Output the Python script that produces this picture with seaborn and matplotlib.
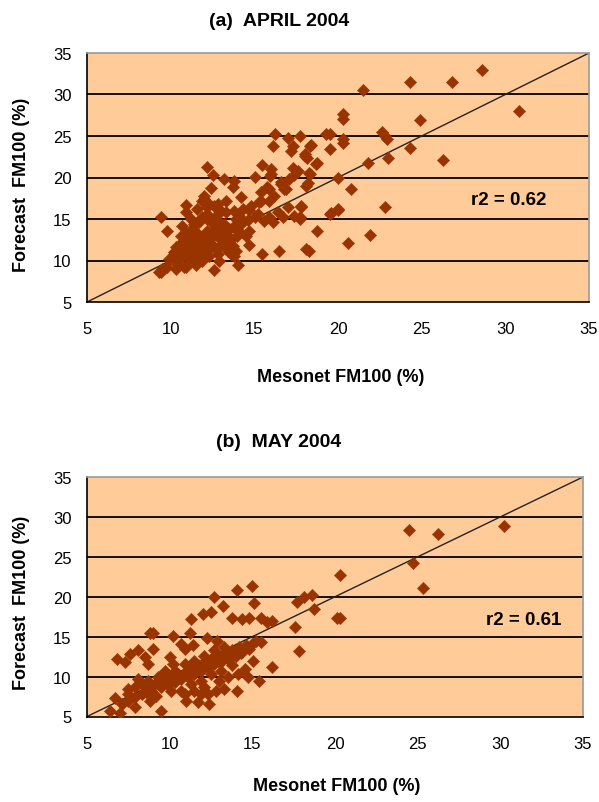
import numpy as np
import pandas as pd
import matplotlib
matplotlib.use("Agg")
import matplotlib.pyplot as plt
import seaborn as sns

# ---------------- data ----------------
april_x = [28.6, 30.8, 24.3, 26.8, 21.5, 20.3, 20.3, 24.9, 20.3, 20.3, 22.6, 22.8, 22.9, 21.8, 23.0,
           24.3, 26.3, 20.75, 20.0, 22.8, 21.9, 20.6,
           17.7, 19.3, 19.5, 18.36, 19.5, 18.0, 18.15, 18.77, 17.6, 18.26, 20.0, 18.1, 18.2, 17.8, 17.7,
           19.6, 20.0, 18.77, 18.26,
           16.25, 16.1, 17.0, 17.3, 17.2, 18.3, 12.2, 15.45, 16.0, 16.0, 17.3, 17.4, 15.06, 12.5,
           9.43, 9.8, 10.9, 10.9, 11.2, 12.4, 12.0, 12.2, 13.2, 13.8, 13.7, 14.2, 12.8, 15.95, 16.6,
           16.9, 17.1, 15.4, 15.85, 14.8, 15.4, 18.3, 16.5, 15.45, 14.7, 14.0, 12.6, 12.9, 13.6, 9.4,
           9.8, 10.4, 10.8, 19.5,
           16.2, 15.85, 14.7, 15.06, 14.1, 14.3, 15.55, 15.85, 16.1, 16.4, 16.7, 17.0, 17.4, 17.7, 17.8,
           14.7, 14.5, 18.1, 13.4, 13.8, 12.0, 12.2, 13.3, 13.8, 15.3, 15.75, 16.6, 16.8,
           9.9, 10.2, 10.5, 10.7, 11.0, 11.2, 11.5, 11.7, 12.0, 12.2, 12.5, 12.7, 13.0, 13.2, 13.5,
           11.1, 11.6, 12.1, 12.6, 13.1, 13.6, 13.97, 10.4, 10.9, 11.5, 11.9, 12.3, 12.8, 13.9, 11.3,
           10.9, 10.7, 11.7, 12.2, 12.7, 13.0, 12.6, 13.3, 13.9, 14.3,
           9.33, 9.5, 10.3, 10.5, 11.1, 11.3, 11.7, 11.9, 12.1, 12.3, 12.9, 13.1, 13.5, 13.7, 12.7,
           12.5, 12.9, 13.7, 14.1, 12.1, 11.7, 11.5, 11.1, 10.7, 10.3, 10.6, 11.4, 11.9, 12.2, 11.6, 11.9,
           18.7, 18.0,
           10.6, 11.0, 11.4, 11.8, 12.4, 12.8, 13.3, 10.1, 11.2, 12.0, 12.6, 13.2, 14.0, 14.6, 15.2]
april_y = [32.9, 28.0, 31.5, 31.5, 30.6, 27.6, 27.0, 26.9, 24.6, 24.1, 25.5, 25.0, 24.6, 21.7, 22.3,
           23.5, 22.1, 18.6, 16.1, 16.5, 13.1, 12.1,
           25.0, 25.2, 25.2, 23.9, 23.4, 22.8, 22.4, 21.7, 20.8, 20.6, 20.0, 19.0, 19.3, 16.4, 15.2,
           15.7, 16.2, 13.5, 11.2,
           25.2, 23.8, 24.8, 23.8, 23.2, 23.8, 21.3, 21.5, 21.0, 20.4, 21.2, 20.3, 20.1, 20.3,
           15.3, 13.5, 16.7, 15.9, 15.0, 18.7, 17.4, 16.4, 19.8, 19.6, 18.8, 17.6, 16.8, 20.2, 19.2,
           18.6, 19.8, 18.2, 18.6, 16.6, 17.2, 20.4, 11.2, 10.8, 11.9, 9.4, 8.8, 9.9, 10.8, 8.6,
           9.2, 10.0, 9.2, 15.6,
           17.8, 17.2, 16.1, 15.2, 15.4, 14.6, 14.8, 15.2, 14.6, 15.8, 15.2, 16.4, 15.4, 15.0, 16.6,
           13.6, 13.0, 11.4, 11.2, 10.6, 17.8, 17.0, 15.8, 16.0, 17.0, 18.8, 19.4, 18.6,
           10.2, 11.0, 11.6, 10.6, 11.4, 12.4, 11.8, 13.0, 12.4, 13.6, 13.0, 14.0, 13.4, 14.4, 13.8,
           10.2, 10.8, 11.2, 11.6, 12.0, 12.6, 13.0, 9.6, 9.2, 9.4, 10.0, 10.6, 10.8, 11.2, 13.8,
           13.2, 14.2, 14.6, 15.0, 15.4, 16.0, 16.6, 17.2, 15.0, 16.2,
           8.6, 9.0, 9.0, 10.6, 11.4, 10.2, 10.6, 11.8, 11.0, 12.2, 11.6, 13.0, 12.4, 11.8, 13.8,
           14.4, 14.6, 14.0, 13.6, 13.0, 12.4, 13.4, 12.8, 12.2, 11.6, 13.0, 14.4, 15.2, 15.6, 16.2, 17.2,
           21.6, 22.6,
           10.9, 11.3, 11.0, 11.6, 12.0, 12.8, 13.2, 10.4, 12.6, 12.8, 13.4, 13.8, 14.2, 14.9, 15.6]

may_x = [30.2, 24.5, 26.25, 24.7, 25.3, 20.3, 20.3, 14.06, 15.0, 18.6, 12.7,
         15.1, 13.25, 12.0, 12.5, 11.3, 13.75, 14.4, 14.8, 15.5, 15.9, 16.2, 17.7, 18.7, 17.6, 17.8,
         16.2, 15.2, 15.5, 15.06, 15.4, 14.06, 14.76, 14.15, 14.56, 12.85, 12.24, 11.4, 10.7, 10.9,
         11.2, 10.2, 8.8, 9.0, 6.8, 7.3, 7.6, 8.1, 8.5, 8.7, 9.0, 10.0, 10.2, 8.1, 9.6, 9.5, 6.4,
         6.7, 7.0, 7.9, 7.5, 8.8, 9.2, 11.0, 11.7, 12.4, 12.3, 12.8, 13.3,
         7.1, 7.5, 7.9, 8.3, 8.5, 8.9, 9.1, 9.5, 9.7, 9.9, 10.1, 10.3, 10.5, 10.7, 10.9, 11.1, 11.3,
         11.5, 11.7, 11.9, 12.1, 12.3, 12.5, 12.7, 13.0, 13.1, 13.3, 13.5, 13.75, 14.0, 14.2, 14.4,
         14.6, 14.8, 15.0, 10.1, 10.7, 11.3, 11.9, 12.5, 13.1, 13.75, 10.9, 11.5, 12.1, 10.3, 10.9,
         11.5, 12.1, 12.7, 13.3, 9.7, 9.3, 8.7, 8.3, 7.9, 7.5, 11.9, 13.0, 13.5, 18.1, 20.1,
         10.5, 11.0, 11.6, 12.2, 12.9, 13.6, 14.3, 9.4, 8.6]
may_y = [28.9, 28.3, 27.8, 24.2, 21.1, 22.7, 17.4, 20.8, 21.4, 20.2, 20.0,
         19.2, 18.9, 17.8, 18.1, 17.2, 17.4, 17.2, 17.4, 17.4, 16.8, 17.0, 19.3, 18.5, 16.2, 13.2,
         11.2, 14.5, 14.3, 12.0, 9.4, 8.2, 9.9, 10.3, 10.96, 14.5, 14.85, 13.9, 14.1, 13.5,
         15.4, 15.1, 15.4, 15.4, 12.2, 11.8, 12.8, 13.3, 12.4, 11.6, 13.5, 12.4, 11.6, 9.7, 10.3, 5.7, 5.7,
         7.3, 5.5, 6.2, 7.0, 7.0, 7.6, 7.0, 6.8, 6.6, 7.8, 8.2, 8.4,
         6.6, 7.8, 7.4, 7.8, 8.7, 8.2, 9.1, 8.7, 9.5, 8.9, 9.9, 9.3, 10.3, 9.7, 10.5, 9.9, 11.0,
         10.3, 11.4, 10.7, 11.8, 11.2, 12.2, 11.6, 12.4, 11.8, 12.8, 12.2, 13.3, 12.6, 13.7, 13.05,
         13.9, 13.5, 14.1, 8.2, 8.2, 9.1, 9.5, 10.3, 10.75, 11.4, 7.8, 8.2, 8.7, 10.75, 11.6,
         12.0, 12.6, 13.3, 13.7, 10.75, 9.9, 9.5, 9.1, 8.7, 8.4, 7.8, 9.5, 9.9, 20.0, 17.4,
         10.0, 10.6, 10.9, 11.4, 11.9, 12.5, 13.0, 9.0, 8.0]

titles = ["(a)  APRIL 2004", "(b)  MAY 2004"]
r2_labels = ["r2 = 0.62", "r2 = 0.61"]
ticks = [5, 10, 15, 20, 25, 30, 35]
xlabel = "Mesonet FM100 (%)"
ylabel = "Forecast  FM100 (%)"

# ---------------- style ----------------
sns.set_style("white")
plt.rcParams['font.family'] = ['Liberation Sans', 'DejaVu Sans']
plt.rcParams['text.color'] = 'black'
NARROW = ['Liberation Sans Narrow', 'Liberation Sans', 'DejaVu Sans']

BG = "#FFCC99"
MK = "#993300"

fig = plt.figure(figsize=(5.99, 8.03), dpi=100)
W, H = 599.0, 803.0

def px_axes(l, t, r, b):
    return fig.add_axes([l / W, 1 - b / H, (r - l) / W, (b - t) / H])

ax1 = px_axes(87, 54, 589, 303)
ax2 = px_axes(87, 478, 583, 717.5)

panels = [
    (ax1, april_x, april_y, r2_labels[0], (30.2, 17.4)),
    (ax2, may_x, may_y, r2_labels[1], (31.4, 17.2)),
]

for ax, xs, ys, lab, tpos in panels:
    df = pd.DataFrame({"mesonet": xs, "forecast": ys})
    ax.set_facecolor(BG)
    for yv in ticks[1:-1]:
        ax.axhline(yv, color="black", lw=1.3, zorder=1)
    ax.plot([5, 35], [5, 35], color="#222222", lw=1.0, zorder=2)
    sns.scatterplot(data=df, x="mesonet", y="forecast", ax=ax, marker="D",
                    s=40, color=MK, edgecolor=MK, linewidth=0.3, zorder=3, legend=False)
    ax.set_xlim(5, 35)
    ax.set_ylim(5, 35)
    ax.set_xticks(ticks)
    ax.set_yticks(ticks)
    ax.set_xlabel("")
    ax.set_ylabel("")
    ax.tick_params(axis="both", direction="out", length=6, width=1.0, colors="black",
                   labelsize=12, pad=5)
    ax.tick_params(axis="x", pad=8)
    for side in ["left", "bottom"]:
        ax.spines[side].set_color("black")
        ax.spines[side].set_linewidth(1.2)
    for side in ["top", "right"]:
        ax.spines[side].set_color("#999999")
        ax.spines[side].set_linewidth(1.2)
    ax.text(tpos[0], tpos[1], lab, ha="center", va="center", fontsize=13.5,
            fontweight="bold", family=NARROW, color="black", zorder=4)

# titles and axis labels
fig.text(279 / W, 1 - 21 / H, titles[0], ha="center", va="center", fontsize=14,
         fontweight="bold", family=NARROW)
fig.text(279 / W, 1 - 443 / H, titles[1], ha="center", va="center", fontsize=14,
         fontweight="bold", family=NARROW)
fig.text(341 / W, 1 - 378 / H, xlabel, ha="center", va="center", fontsize=13,
         fontweight="bold", family=NARROW)
fig.text(337 / W, 1 - 787 / H, xlabel, ha="center", va="center", fontsize=13,
         fontweight="bold", family=NARROW)
fig.text(22 / W, 1 - 185 / H, ylabel, ha="center", va="center", rotation=90,
         fontsize=13, fontweight="bold", family=NARROW)
fig.text(22 / W, 1 - 603 / H, ylabel, ha="center", va="center", rotation=90,
         fontsize=13, fontweight="bold", family=NARROW)

fig.savefig("out.png", dpi=100, facecolor="white")
